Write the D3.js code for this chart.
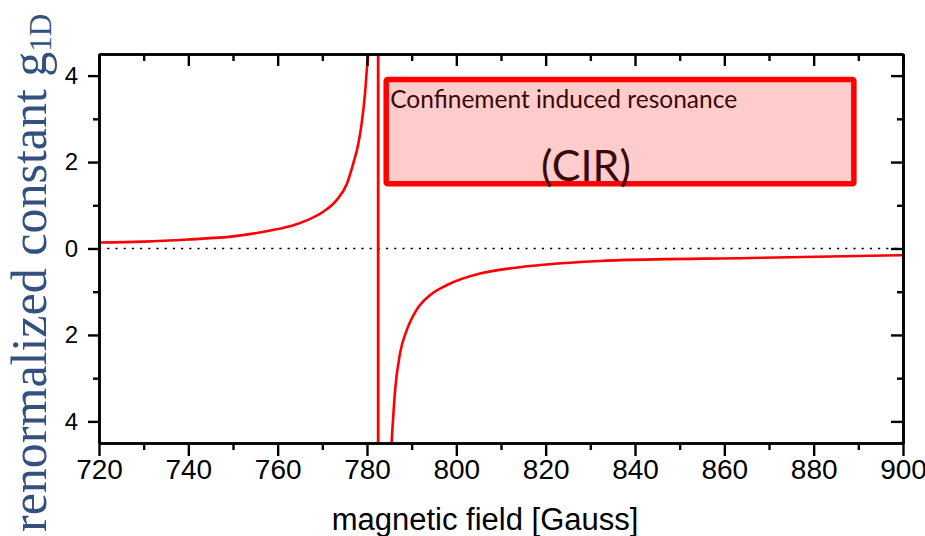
<!DOCTYPE html>
<html>
<head>
<meta charset="utf-8">
<script src="https://cdn.jsdelivr.net/npm/d3@7"></script>
<style>
  html, body { margin: 0; padding: 0; background: #fff; }
  svg { display: block; }
</style>
</head>
<body>
<svg id="chart" width="925" height="536"></svg>
<script>
// Renormalized 1D coupling constant across the confinement induced resonance
const lowBranchField = [720, 730, 740, 750, 760, 763, 766.5, 770.2, 773.2, 775.5, 776.9, 778.05, 778.8, 779.55, 780.07, 780.3];
const lowBranchG     = [0.14, 0.16, 0.21, 0.28, 0.45, 0.52, 0.65, 0.85, 1.12, 1.5, 1.96, 2.42, 2.89, 3.58, 4.27, 4.5];
const highBranchField = [785.5, 786.3, 787.4, 788.9, 791.1, 794.1, 797.8, 805.3, 812.8, 820.2, 832.2, 836.6, 865.7, 900];
const highBranchG     = [-4.5, -3.27, -2.42, -1.89, -1.42, -1.08, -0.85, -0.58, -0.45, -0.37, -0.29, -0.27, -0.22, -0.155];
const resonanceField = 782.5;

const xMajorTicks = [720, 740, 760, 780, 800, 820, 840, 860, 880, 900];
const xMinorTicks = [730, 750, 770, 790, 810, 830, 850, 870, 890];
const yMajorTicks = [-4, -2, 0, 2, 4];
const yMinorTicks = [-3, -1, 1, 3];

// annotation box, in data units
const boxField = [784.3, 889];
const boxG = [1.5, 3.91];
const boxLine1 = "Confinement induced resonance";
const boxLine2 = "(CIR)";

const xTitle = "magnetic field [Gauss]";
const yTitleMain = "renormalized constant g";
const yTitleSub = "1D";

const svg = d3.select("#chart");
const plot = { left: 99, right: 903, top: 54, bottom: 443 };

const x = d3.scaleLinear().domain([720, 900]).range([plot.left, plot.right]);
const y = d3.scaleLinear().domain([-4.5, 4.5]).range([plot.bottom, plot.top]);

svg.append("rect").attr("width", 925).attr("height", 536).attr("fill", "#fff");

svg.append("defs").append("clipPath").attr("id", "plotClip")
  .append("rect")
  .attr("x", plot.left).attr("y", plot.top)
  .attr("width", plot.right - plot.left).attr("height", plot.bottom - plot.top);

// zero reference line
svg.append("line")
  .attr("x1", x(720)).attr("x2", x(900))
  .attr("y1", y(0)).attr("y2", y(0))
  .attr("stroke", "#000").attr("stroke-width", 1.6)
  .attr("stroke-dasharray", "2.2,6");

// annotation box
svg.append("rect")
  .attr("x", x(boxField[0])).attr("y", y(boxG[1]))
  .attr("width", x(boxField[1]) - x(boxField[0]))
  .attr("height", y(boxG[0]) - y(boxG[1]))
  .attr("rx", 1.5)
  .attr("fill", "#ffcccc").attr("stroke", "#ff0000").attr("stroke-width", 5.5);

const curves = svg.append("g").attr("clip-path", "url(#plotClip)");
const line = d3.line()
  .x(d => x(d[0])).y(d => y(d[1]))
  .curve(d3.curveMonotoneX);

curves.append("path")
  .datum(d3.zip(lowBranchField, lowBranchG))
  .attr("d", line)
  .attr("fill", "none").attr("stroke", "#ff0000").attr("stroke-width", 2.6);
curves.append("path")
  .datum(d3.zip(highBranchField, highBranchG))
  .attr("d", line)
  .attr("fill", "none").attr("stroke", "#ff0000").attr("stroke-width", 2.6);
curves.append("line")
  .attr("x1", x(resonanceField)).attr("x2", x(resonanceField))
  .attr("y1", y(-4.5)).attr("y2", y(4.5))
  .attr("stroke", "#ff0000").attr("stroke-width", 2.8);

// box text
const boxText = svg.append("g")
  .attr("font-family", "Lato, 'Open Sans', sans-serif")
  .attr("fill", "#3a0808");
boxText.append("text")
  .attr("x", x(boxField[0]) + 4).attr("y", 108)
  .attr("font-size", 24.5)
  .text(boxLine1);
boxText.append("text")
  .attr("x", 586).attr("y", 181)
  .attr("text-anchor", "middle")
  .attr("font-size", 43)
  .text(boxLine2);

// axes frame and ticks
const axisColor = "#000";
const tickW = 2.4;

const axBottom = d3.axisBottom(x).tickValues(xMajorTicks).tickSize(13).tickSizeOuter(0).tickPadding(3).tickFormat(d3.format("d"));
const axBottomMinor = d3.axisBottom(x).tickValues(xMinorTicks).tickSize(7).tickSizeOuter(0).tickFormat("");
const axTop = d3.axisTop(x).tickValues(xMajorTicks).tickSize(-12).tickSizeOuter(0).tickFormat("");
const axTopMinor = d3.axisTop(x).tickValues(xMinorTicks).tickSize(-7).tickSizeOuter(0).tickFormat("");
const axLeft = d3.axisLeft(y).tickValues(yMajorTicks).tickSize(11).tickSizeOuter(0).tickPadding(10).tickFormat(d => String(Math.abs(d)));
const axLeftMinor = d3.axisLeft(y).tickValues(yMinorTicks).tickSize(6).tickSizeOuter(0).tickFormat("");
const axRight = d3.axisRight(y).tickValues(yMajorTicks).tickSize(-12).tickSizeOuter(0).tickFormat("");
const axRightMinor = d3.axisRight(y).tickValues(yMinorTicks).tickSize(-6).tickSizeOuter(0).tickFormat("");

function drawAxis(gen, tx, ty) {
  const g = svg.append("g").attr("transform", `translate(${tx},${ty})`).call(gen);
  g.selectAll("path.domain").attr("stroke", axisColor).attr("stroke-width", 2.6);
  g.selectAll(".tick line").attr("stroke", axisColor).attr("stroke-width", tickW);
  return g;
}

drawAxis(axBottomMinor, 0, plot.bottom);
drawAxis(axTopMinor, 0, plot.top);
drawAxis(axLeftMinor, plot.left, 0);
drawAxis(axRightMinor, plot.right, 0);
const gb = drawAxis(axBottom, 0, plot.bottom);
drawAxis(axTop, 0, plot.top);
const gl = drawAxis(axLeft, plot.left, 0);
drawAxis(axRight, plot.right, 0);

gb.selectAll(".tick text")
  .attr("font-family", "'Liberation Sans', Arial, sans-serif")
  .attr("font-size", 28).attr("fill", "#000");
gl.selectAll(".tick text")
  .attr("font-family", "'Liberation Sans', Arial, sans-serif")
  .attr("font-size", 24).attr("fill", "#000");

// axis titles
svg.append("text")
  .attr("x", 485).attr("y", 530)
  .attr("text-anchor", "middle")
  .attr("font-family", "'Liberation Sans', Arial, sans-serif")
  .attr("font-size", 31).attr("fill", "#000")
  .text(xTitle);

const yt = svg.append("text")
  .attr("transform", "translate(46,532) rotate(-90)")
  .attr("font-family", "'Liberation Serif', 'DejaVu Serif', serif")
  .attr("font-size", 50).attr("fill", "#33507f");
yt.append("tspan").text(yTitleMain);
yt.append("tspan").attr("font-size", 31).attr("dy", 5).text(yTitleSub);
</script>
</body>
</html>
